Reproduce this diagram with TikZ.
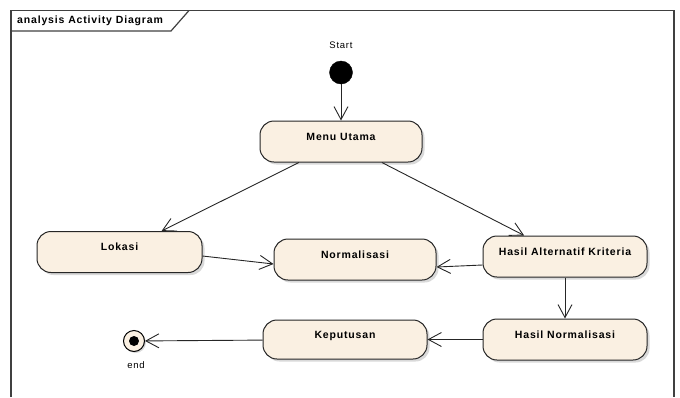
\documentclass[tikz,border=0pt]{standalone}
\usepackage{fontspec}
\setmainfont{Liberation Sans}
\newfontfamily\lbl[LetterSpace=8]{Liberation Sans}
\usetikzlibrary{arrows.meta,shadows}
\definecolor{actfill}{RGB}{250,240,226}
\begin{document}
\begin{tikzpicture}[x=1pt,y=-1pt,
  act/.style={draw=black!85, line width=1pt, fill=actfill, rounded corners=14pt,
    minimum width=164pt, minimum height=41pt, inner sep=0pt,
    text height=7.5pt, text depth=10.4pt,
    font=\lbl\fontsize{10.5}{12}\selectfont\bfseries,
    drop shadow={opacity=0.3, shadow xshift=2.5pt, shadow yshift=-2.5pt}},
  flow/.style={draw=black!85, line width=0.9pt, -{Straight Barb[length=13pt,width=14pt]}},
  small/.style={font=\lbl\fontsize{9.5}{11}\selectfont, inner sep=0pt},
  frame/.style={draw=black!75, line width=1.2pt}]
\useasboundingbox (0,0) rectangle (680,397);
% frame
\draw[frame] (11,397) -- (11,10.5) -- (674,10.5) -- (674,397);
\draw[frame] (11,31) -- (171,31) -- (189,10.5);
\node[anchor=west, inner sep=0pt, font=\lbl\fontsize{10.5}{12}\selectfont\bfseries] (title) at (17,20.5) {analysis Activity Diagram};
% start
\node[small] (startlbl) at (341,45) {Start};
\node[circle, fill=black, draw=black, minimum size=23pt, inner sep=0pt] (start) at (341,72.5) {};
% activities
\node[act, minimum width=162pt] (menu) at (341,141.5) {Menu Utama};
\node[act, minimum width=165pt] (lokasi) at (119.5,252) {Lokasi};
\node[act, minimum width=162pt] (norm) at (355,259.5) {Normalisasi};
\node[act] (halt) at (565,256.5) {Hasil Alternatif Kriteria};
\node[act] (hnorm) at (565,339.5) {Hasil Normalisasi};
\node[act, minimum height=39pt] (kep) at (345,339.5) {Keputusan};
% end
\node[circle, draw=black, line width=1pt, fill=actfill, minimum size=21pt, inner sep=0pt,
  drop shadow={opacity=0.3, shadow xshift=1.5pt, shadow yshift=-1.5pt},
  path picture={\fill[black] (path picture bounding box.center) circle (5pt);}] (end) at (134,341) {};
\node[small] (endlbl) at (136,365) {end};
% flows
\draw[flow] (start) -- (menu);
\draw[flow] (menu) -- (lokasi);
\draw[flow] (menu) -- (halt);
\draw[flow] ([yshift=-4pt]lokasi.east) -- ([yshift=-4.5pt]norm.west);
\draw[flow] ([yshift=-8.5pt]halt.west) -- ([yshift=-7.5pt]norm.east);
\draw[flow] (halt) -- (hnorm);
\draw[flow] (hnorm) -- (kep);
\draw[flow] (kep) -- (end);
\end{tikzpicture}
\end{document}
